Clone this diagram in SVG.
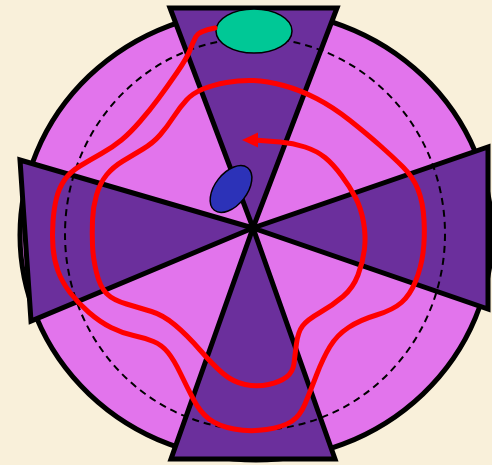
<svg xmlns="http://www.w3.org/2000/svg" width="492" height="465" viewBox="0 0 492 465">
<defs>
<style>
.wedge{fill:#6b2f9c;stroke:#000;stroke-width:5;stroke-linejoin:miter}
.red{fill:none;stroke:#ff0000;stroke-width:5;stroke-linecap:round;stroke-linejoin:round}
</style>
</defs>
<rect width="492" height="465" fill="#f9f0da"/>
<g id="disc">
<ellipse cx="256" cy="235" rx="236" ry="225" fill="#e274ec" stroke="#000" stroke-width="5"/>
</g>
<g id="wedges">
<polygon id="wedge-top" class="wedge" points="170,8 337,8 253,228"/>
<polygon id="wedge-bottom" class="wedge" points="171,459 335,459 253,228"/>
<polygon id="wedge-left" class="wedge" points="20,160 31,321 253,228"/>
<polygon id="wedge-right" class="wedge" points="488,147 488,309 253,228"/>
</g>
<g id="orbit">
<ellipse cx="255" cy="234" rx="190" ry="196" fill="none" stroke="#000" stroke-width="2" stroke-dasharray="7,5"/>
</g>
<g id="green-node">
<ellipse cx="254" cy="31" rx="38" ry="22" fill="#00c896" stroke="#000" stroke-width="1.5"/>
</g>
<g id="blue-node">
<ellipse cx="0" cy="0" rx="27" ry="16" transform="translate(231,189) rotate(-52)" fill="#2c32b8" stroke="#000" stroke-width="1.5"/>
</g>
<g id="connectors">
<path class="red" d="M215,28 Q199,31 196,36.5 Q193,42 190,50 Q187,58 177,72.5 Q167,87 158.5,98.5 Q150,110 140,121.5 Q130,133 121.5,140 Q113,147 101.5,153.5 Q90,160 80,166 Q70,172 64.5,180 Q59,188 56.5,198 Q54,208 53,221.5 Q52,235 53,247.5 Q54,260 58,271 Q62,282 70,292.5 Q78,303 89,312.5 Q100,322 111,327.5 Q122,333 133.5,335.5 Q145,338 153.5,341.5 Q162,345 168,352.5 Q174,360 180.5,373.5 Q187,387 193.5,399.5 Q200,412 209,419 Q218,426 234,429 Q250,432 266.5,429.5 Q283,427 291.5,421.5 Q300,416 305,404 Q310,392 316.5,375 Q323,358 330,346.5 Q337,335 348.5,327.5 Q360,320 376.5,315 Q393,310 401.5,302.5 Q410,295 415.5,281.5 Q421,268 423,253 Q425,238 424,220 Q423,202 418,189.5 Q413,177 403,167 Q393,157 380,145.5 Q367,134 350,120.5 Q333,107 316.5,98.5 Q300,90 283.5,85.5 Q267,81 253.5,80.5 Q240,80 226.5,82.5 Q213,85 203,89 Q193,93 186.5,100 Q180,107 173.5,117 Q167,127 160,135 Q153,143 143,149 Q133,155 123,161 Q113,167 106.5,175 Q100,183 96.5,195 Q93,207 92.5,220 Q92,233 92.5,245.5 Q93,258 96.5,272.5 Q100,287 106.5,293.5 Q113,300 126.5,304 Q140,308 151.5,311.5 Q163,315 175,325 Q187,335 200,350 Q213,365 223,373.5 Q233,382 245,384.5 Q257,387 268.5,384.5 Q280,382 286.5,377 Q293,372 294,363.5 Q295,355 296.5,343.5 Q298,332 302.5,326 Q307,320 320,312.5 Q333,305 343,296.5 Q353,288 358,275 Q363,262 364.5,249 Q366,236 363.5,222 Q361,208 355.5,197.5 Q350,187 341.5,175.5 Q333,164 325,157.5 Q317,151 305,147 Q293,143 280,142 Q267,141 254,140"/>
<polygon points="242,140 258,132.5 258,147.5" fill="#ff0000"/>
</g>
</svg>
